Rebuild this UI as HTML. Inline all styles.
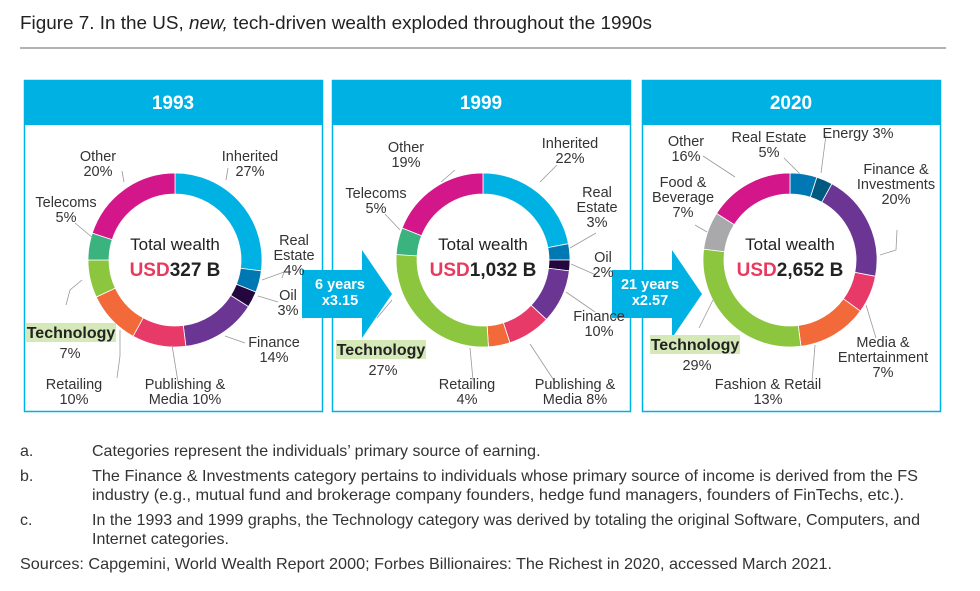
<!DOCTYPE html>
<html><head><meta charset="utf-8"><style>
body{margin:0;background:#fff;font-family:"Liberation Sans",sans-serif;}
svg text{font-family:"Liberation Sans",sans-serif;}
</style></head><body>
<svg width="980" height="586" viewBox="0 0 980 586">
<text x="20" y="29" font-size="18.5" fill="#222" textLength="632" lengthAdjust="spacingAndGlyphs">Figure 7. In the US, <tspan font-style="italic">new,</tspan> tech-driven wealth exploded throughout the 1990s</text>
<line x1="20" y1="48" x2="946" y2="48" stroke="#666" stroke-width="1"/>
<g id="panels"></g>
<g font-size="16" fill="#333">
<text x="20" y="456">a.</text>
<text x="92" y="456">Categories represent the individuals’ primary source of earning.</text>
<text x="20" y="481">b.</text>
<text x="92" y="481" textLength="826" lengthAdjust="spacingAndGlyphs">The Finance &amp; Investments category pertains to individuals whose primary source of income is derived from the FS</text>
<text x="92" y="500" textLength="812" lengthAdjust="spacingAndGlyphs">industry (e.g., mutual fund and brokerage company founders, hedge fund managers, founders of FinTechs, etc.).</text>
<text x="20" y="525">c.</text>
<text x="92" y="525" textLength="828" lengthAdjust="spacingAndGlyphs">In the 1993 and 1999 graphs, the Technology category was derived by totaling the original Software, Computers, and</text>
<text x="92" y="544">Internet categories.</text>
<text x="20" y="569" textLength="812" lengthAdjust="spacingAndGlyphs">Sources: Capgemini, World Wealth Report 2000; Forbes Billionaires: The Richest in 2020, accessed March 2021.</text>
</g>
</svg>
<script>
const years=["1993","1999","2020"];
const totals=["327","1,032","2,652"];
const cats1993=["Inherited","Real Estate","Oil","Finance","Publishing & Media","Retailing","Technology","Telecoms","Other"];
const vals1993=[27,4,3,14,10,10,7,5,20];
const cats1999=["Inherited","Real Estate","Oil","Finance","Publishing & Media","Retailing","Technology","Telecoms","Other"];
const vals1999=[22,3,2,10,8,4,27,5,19];
const cats2020=["Real Estate","Energy","Finance & Investments","Media & Entertainment","Fashion & Retail","Technology","Food & Beverage","Other"];
const vals2020=[5,3,20,7,13,29,7,16];
const arrowLabels=[["6 years","x3.15"],["21 years","x2.57"]];
const colors={"Inherited":"#00b2e3","Real Estate":"#0078b4","Oil":"#24073f","Energy":"#005a80","Finance":"#6b3594","Finance & Investments":"#6b3594","Publishing & Media":"#e83a68","Media & Entertainment":"#e83a68","Retailing":"#f26a3a","Fashion & Retail":"#f26a3a","Technology":"#8cc63f","Telecoms":"#3bb37f","Other":"#d4168b","Food & Beverage":"#a9a9ab"};
const NS="http://www.w3.org/2000/svg";
const g=document.getElementById('panels');
function mk(tag,attrs,parent){const e=document.createElementNS(NS,tag);for(const k in attrs)e.setAttribute(k,attrs[k]);(parent||g).appendChild(e);return e;}
const panelX=[24,332,642],panelW=298;
const centers=[[175,260],[483,260],[790,260]];
const R=87,r=66;
function arc(cx,cy,a0,a1){const p=(a,rad)=>[cx+rad*Math.sin(a),cy-rad*Math.cos(a)];const L=(a1-a0)>Math.PI?1:0;const[a,b]=p(a0,R),[c,d]=p(a1,R),[e,f]=p(a1,r),[h,i]=p(a0,r);return `M${a},${b}A${R},${R} 0 ${L} 1 ${c},${d}L${e},${f}A${r},${r} 0 ${L} 0 ${h},${i}Z`;}
const allCats=[cats1993,cats1999,cats2020],allVals=[vals1993,vals1999,vals2020];
years.forEach((y,k)=>{
  const x=panelX[k];
  const border=mk('rect',{x:x+0.5,y:80.5,width:panelW,height:331,fill:'#fff',stroke:'#00b2e3','stroke-width':1.5});
  
  
  const hdr=mk('rect',{x:x,y:80,width:panelW+1,height:45,fill:'#00b2e3'});
  
  
  const ht=mk('text',{x:x+panelW/2,y:109,'text-anchor':'middle','font-size':19,'font-weight':'bold',fill:'#fff'});ht.textContent=y;
  
  
  const [cx,cy]=centers[k];const vals=allVals[k],cats=allCats[k];
  const tot=vals.reduce((a,b)=>a+b,0);let acc=0;
  vals.forEach((v,i)=>{const a0=acc/tot*2*Math.PI;acc+=v;const a1=acc/tot*2*Math.PI;
    const p=mk('path',{d:arc(cx,cy,a0,a1),fill:colors[cats[i]],stroke:'#fff','stroke-width':0.8});
    
    });
  const t1=mk('text',{x:cx,y:cy-10,'text-anchor':'middle','font-size':17,fill:'#222'});t1.textContent='Total wealth';
  
  
  const t2=mk('text',{x:cx,y:cy+16,'text-anchor':'middle','font-size':19,'font-weight':'bold',fill:'#222'});
  t2.innerHTML='<tspan fill="#e83a5f">USD</tspan>'+totals[k]+' B';
  
  
});
// arrows
[[302,392],[612,702]].forEach((ar,k)=>{
  const [x0,x1]=ar;const p=mk('path',{d:`M${x0},270H${x1-30}V250L${x1},294L${x1-30},338V318H${x0}Z`,fill:'#00b2e3'});
  
  
  const t=mk('text',{x:x0+38,y:289,'text-anchor':'middle','font-size':14.5,'font-weight':'bold',fill:'#fff'});
  t.innerHTML=`<tspan x="${x0+38}">${arrowLabels[k][0]}</tspan><tspan x="${x0+38}" dy="16">${arrowLabels[k][1]}</tspan>`;
  
  
});
// leader lines
const leaders=[
 "M228,168L226,180","M282,278L284,272L262,280","M278,302L258,296","M245,343L225,336","M178,382L172,345","M117,378L120,356V330","M122,171L124,182","M75,223L93,238","M66,305L70,290L82,280",
 "M557,165L540,182","M596,233L570,248","M596,275L571,264","M595,312L566,292","M555,382L530,344","M473,380L470,348","M455,170L441,182","M385,214L400,230","M377,318L392,300",
 "M784,158L800,174","M826,135L821,173","M897,230L896,250L880,255","M876,338L866,305","M812,382L815,345","M703,156L735,177","M695,225L707,232","M699,328L713,300"
];
leaders.forEach(d=>{const p=mk('path',{d:d,fill:'none',stroke:'#999','stroke-width':0.8});
  
  });
const labels=[
 [250,161,["Inherited","27%"]],[294,245,["Real","Estate","4%"]],[288,300,["Oil","3%"]],[274,347,["Finance","14%"]],[185,389,["Publishing &","Media 10%"]],[74,389,["Retailing","10%"]],[98,161,["Other","20%"]],[66,207,["Telecoms","5%"]],
 [570,148,["Inherited","22%"]],[597,197,["Real","Estate","3%"]],[603,262,["Oil","2%"]],[599,321,["Finance","10%"]],[575,389,["Publishing &","Media 8%"]],[467,389,["Retailing","4%"]],[406,152,["Other","19%"]],[376,198,["Telecoms","5%"]],
 [769,142,["Real Estate","5%"]],[858,138,["Energy 3%"]],[896,174,["Finance &","Investments","20%"]],[883,347,["Media &","Entertainment","7%"]],[768,389,["Fashion & Retail","13%"]],[686,146,["Other","16%"]],[683,187,["Food &","Beverage","7%"]]
];
labels.forEach(l=>{const t=mk('text',{x:l[0],y:l[1],'text-anchor':'middle','font-size':14.5,fill:'#333'});
  t.innerHTML=l[2].map((s,i)=>`<tspan x="${l[0]}" dy="${i?15:0}">${s.replace('&','&amp;')}</tspan>`).join('');
  
  });
[[26,323,"7%",70],[336,340,"27%",383],[650,335,"29%",697]].forEach((h,k)=>{
  const b=mk('rect',{x:h[0],y:h[1],width:90,height:19,fill:'#d4e8b8'});
  
  
  const t=mk('text',{x:h[0]+45,y:h[1]+15,'text-anchor':'middle','font-size':16,'font-weight':'bold',fill:'#222'});t.textContent='Technology';
  
  
  const p=mk('text',{x:h[3],y:h[1]+35,'text-anchor':'middle','font-size':14.5,fill:'#333'});p.textContent=h[2];
  
  
});
</script>
</body></html>
